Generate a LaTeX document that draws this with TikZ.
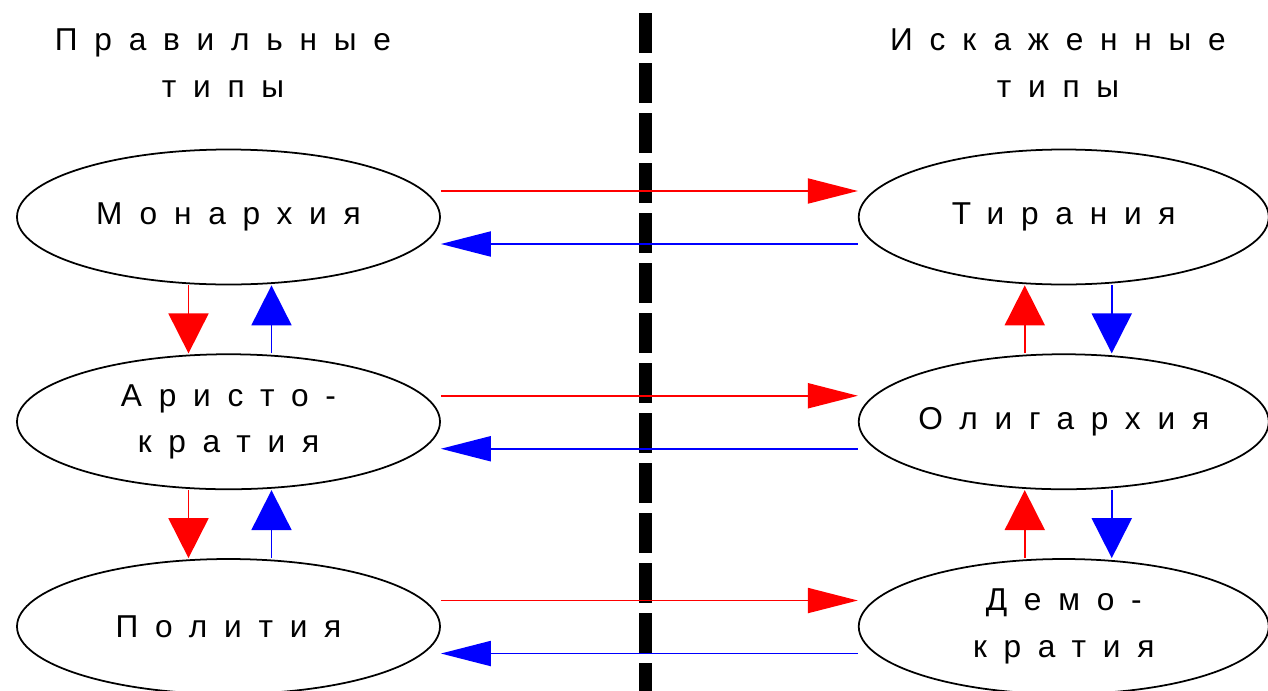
\documentclass[tikz,border=0pt]{standalone}
\usepackage{fontspec}
\setmainfont{Liberation Sans}[LetterSpace=53]
\usetikzlibrary{positioning, shapes.geometric, arrows.meta}

\tikzset{
  typ/.style={ellipse, draw, line width=1pt, minimum height=2.7cm, inner sep=0pt, inner xsep=-0.4cm, align=center},
  head/.style={align=center},
  redh/.style={red, line width=1.1pt, -{Triangle[length=1cm, width=0.5cm]}},
  blueh/.style={blue, line width=1.1pt, -{Triangle[length=1cm, width=0.5cm]}},
  redv/.style={red, line width=1.1pt, -{Triangle[length=0.8cm, width=0.8cm]}},
  bluev/.style={blue, line width=1.1pt, -{Triangle[length=0.8cm, width=0.8cm]}}
}

\begin{document}
\begin{tikzpicture}[font=\fontsize{18}{26.5}\selectfont]
    \useasboundingbox (0,0) rectangle (25.36,-13.82);

    % Headers
    \node[head] (hl) at (4.46,-1.26) {Правильные\\типы};
    \node[head] (hr) at (21.16,-1.26) {Искаженные\\типы};

    % Dividing line
    \draw[line width=0.26cm, dash pattern=on 0.8cm off 0.2cm] (12.9,-0.26) -- (12.9,-13.82);

    % Correct types
    \node[typ, minimum width=8.46cm] (mon) at (4.57,-4.34) {Монархия};
    \node[typ, minimum width=8.46cm, below=1.36cm of mon] (ari) {Аристо-\\кратия};
    \node[typ, minimum width=8.46cm, below=1.36cm of ari] (pol) {Полития};

    % Distorted types
    \node[typ, minimum width=8.2cm, right=8.34cm of mon] (tir) {Тирания};
    \node[typ, minimum width=8.2cm, right=8.34cm of ari] (oli) {Олигархия};
    \node[typ, minimum width=8.2cm, right=8.34cm of pol] (dem) {Демо-\\кратия};

    % Horizontal arrows
    \foreach \a/\b in {mon/tir, ari/oli, pol/dem} {
      \draw[redh] ([yshift=0.52cm]\a.east) -- ([yshift=0.52cm]\b.west);
      \draw[blueh] ([yshift=-0.54cm]\b.west) -- ([yshift=-0.54cm]\a.east);
    }

    % Vertical arrows
    \foreach \a/\b in {mon/ari, ari/pol} {
      \draw[redv] ([xshift=-0.8cm]\a.south) -- ([xshift=-0.8cm]\b.north);
      \draw[bluev] ([xshift=0.86cm]\b.north) -- ([xshift=0.86cm]\a.south);
    }
    \foreach \a/\b in {tir/oli, oli/dem} {
      \draw[redv] ([xshift=-0.78cm]\b.north) -- ([xshift=-0.78cm]\a.south);
      \draw[bluev] ([xshift=0.96cm]\a.south) -- ([xshift=0.96cm]\b.north);
    }
\end{tikzpicture}
\end{document}
